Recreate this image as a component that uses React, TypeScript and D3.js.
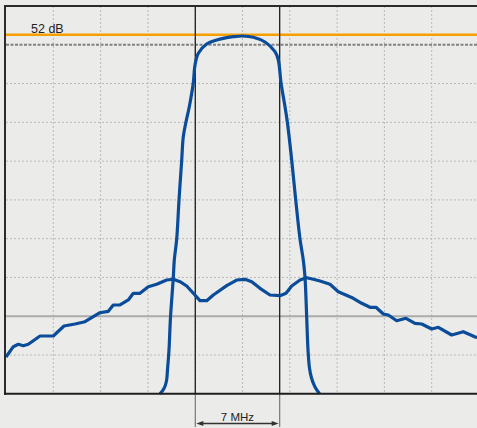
import React from "react";
import * as d3 from "d3";

// x and y in screen divisions (10 x 10 graticule)
const filterX = [3.256, 3.34, 3.393, 3.414, 3.446, 3.478, 3.537, 3.558, 3.609, 3.658, 3.715, 3.748, 3.806, 3.875, 3.96, 3.996, 4.066, 4.243, 4.455, 4.666, 4.805, 5.004, 5.228, 5.476, 5.687, 5.757, 5.814, 5.899, 5.947, 6.04, 6.125, 6.216, 6.285, 6.321, 6.357, 6.385, 6.416, 6.459, 6.533, 6.628];
const filterY = [0, 0.137, 0.33, 0.614, 1.129, 1.98, 2.994, 3.45, 3.992, 5.001, 6.029, 6.63, 7.016, 7.403, 8.022, 8.479, 8.78, 9.02, 9.123, 9.183, 9.208, 9.226, 9.193, 9.072, 8.822, 8.608, 8.022, 7.403, 7.016, 6.029, 5.001, 3.992, 3.45, 3.012, 1.98, 1.129, 0.665, 0.407, 0.175, 0];

const spectrumX = [0, 0.154, 0.26, 0.366, 0.471, 0.577, 0.719, 1.0, 1.226, 1.459, 1.67, 1.846, 1.987, 2.163, 2.268, 2.41, 2.586, 2.691, 2.833, 3.008, 3.186, 3.397, 3.537, 3.679, 3.82, 3.96, 4.101, 4.243, 4.383, 4.666, 4.877, 5.053, 5.195, 5.37, 5.581, 5.793, 5.92, 6.04, 6.216, 6.357, 6.497, 6.638, 6.85, 7.025, 7.343, 7.52, 7.696, 7.822, 7.977, 8.082, 8.26, 8.457, 8.647, 8.789, 9.0, 9.14, 9.423, 9.668, 9.958];
const spectrumY = [0.949, 1.215, 1.276, 1.24, 1.276, 1.369, 1.49, 1.49, 1.748, 1.8, 1.859, 1.988, 2.091, 2.127, 2.29, 2.29, 2.419, 2.592, 2.592, 2.762, 2.824, 2.934, 2.953, 2.891, 2.78, 2.592, 2.401, 2.401, 2.548, 2.788, 2.934, 2.953, 2.891, 2.72, 2.548, 2.53, 2.592, 2.78, 2.934, 2.994, 2.953, 2.909, 2.824, 2.633, 2.463, 2.334, 2.231, 2.231, 2.058, 2.032, 1.885, 1.947, 1.818, 1.8, 1.671, 1.715, 1.516, 1.601, 1.447];

const gridTicks = [1, 2, 3, 4, 5, 6, 7, 8, 9];
const refLevel = 9.26;
const refLabel = "52 dB";
const markers = [4.002, 5.786];
const spanLabel = "7 MHz";

export default function App() {
  const W = 477, H = 428;
  const x = d3.scaleLinear().domain([0, 10]).range([6, 479]);
  const y = d3.scaleLinear().domain([0, 10]).range([393.8, 6]);
  const blue = "#0a4c9a";
  const filterPts: [number, number][] = filterX.map((v, i) => [v, filterY[i]]);
  const specPts: [number, number][] = spectrumX.map((v, i) => [v, spectrumY[i]]);
  const smooth = d3.line<[number, number]>().x(d => x(d[0])).y(d => y(d[1])).curve(d3.curveCatmullRom.alpha(0.5));
  const lin = d3.line<[number, number]>().x(d => x(d[0])).y(d => y(d[1]));
  const bottom = y(0);
  const m0 = x(markers[0]), m1 = x(markers[1]);
  const ay = 423.5;
  return (
    <svg width={W} height={H} style={{ position: "absolute", left: 0, top: 0, background: "#ebecea" }}
      fontFamily="'Liberation Sans', Arial, sans-serif">
      <rect x={0} y={0} width={W} height={H} fill="#ebecea" />
      {gridTicks.map(t => (
        <line key={"v" + t} x1={x(t)} x2={x(t)} y1={y(10)} y2={bottom} stroke="#b9b9b9" strokeWidth={1} strokeDasharray="2,2" />
      ))}
      {gridTicks.filter(t => t !== 2 && t !== 9).map(t => (
        <line key={"h" + t} x1={x(0)} x2={W} y1={y(t)} y2={y(t)} stroke="#b9b9b9" strokeWidth={1} strokeDasharray="2,2" />
      ))}
      <line x1={x(0)} x2={W} y1={y(2)} y2={y(2)} stroke="#ababab" strokeWidth={2} />
      <line x1={x(0)} x2={W} y1={y(9)} y2={y(9)} stroke="#808080" strokeWidth={2} strokeDasharray="3,1.5" />
      <line x1={x(0)} x2={W} y1={y(refLevel)} y2={y(refLevel)} stroke="#f5a000" strokeWidth={2.5} />
      <text x={31} y={32.5} fontSize={12.5} fill="#222">{refLabel}</text>
      {markers.map((m, i) => (
        <g key={"m" + i}>
          <line x1={x(m)} x2={x(m)} y1={y(10)} y2={bottom} stroke="#1e1e1e" strokeWidth={1.3} />
          <line x1={x(m)} x2={x(m)} y1={bottom} y2={427} stroke="#777" strokeWidth={1.2} />
        </g>
      ))}
      <path d={lin(specPts) ?? ""} fill="none" stroke={blue} strokeWidth={3.2} strokeLinejoin="round" />
      <path d={smooth(filterPts) ?? ""} fill="none" stroke={blue} strokeWidth={3.2} strokeLinejoin="round" />
      <line x1={4} x2={W} y1={6} y2={6} stroke="#2b2b2b" strokeWidth={2} />
      <line x1={5} x2={5} y1={5} y2={bottom + 1} stroke="#2b2b2b" strokeWidth={2} />
      <line x1={4} x2={W} y1={bottom} y2={bottom} stroke="#1e1e1e" strokeWidth={2} />
      <line x1={m0 + 6} x2={m1 - 6} y1={ay} y2={ay} stroke="#333" strokeWidth={1.3} />
      <path d={`M${m0 + 1},${ay} l7,-2.6 v5.2 z`} fill="#333" />
      <path d={`M${m1 - 1},${ay} l-7,-2.6 v5.2 z`} fill="#333" />
      <text x={(m0 + m1) / 2} y={420.5} fontSize={11.5} textAnchor="middle" fill="#222">{spanLabel}</text>
    </svg>
  );
}
